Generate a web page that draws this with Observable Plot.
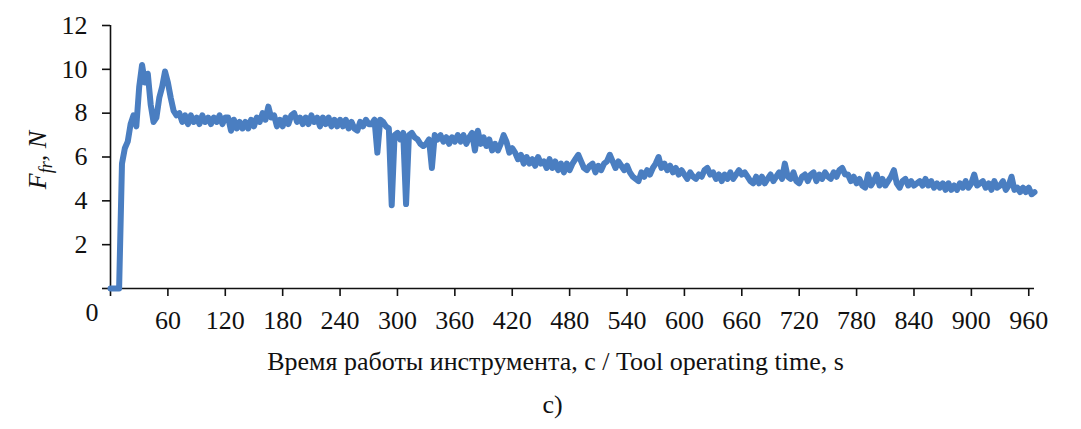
<!DOCTYPE html>
<html><head><meta charset="utf-8">
<script src="https://cdn.jsdelivr.net/npm/d3@7"></script>
<script src="https://cdn.jsdelivr.net/npm/@observablehq/plot@0.6"></script>
<style>body{margin:0;background:#fff;}</style>
</head><body><div id="chart"></div>
<script>
const timeStep = 3; // seconds between samples
const forceValues = [
  0,0,0,0,5.7,6.4,6.7,7.5,7.9,7.4,9.2,10.2,9.4,9.8,8.4,7.6,7.8,8.7,9.2,9.9,9.4,8.7,8.1,7.9,
  8.0,7.6,7.9,7.5,7.9,7.6,7.8,7.5,7.9,7.6,7.8,7.5,7.8,7.6,7.9,7.5,7.8,
  7.8,7.2,7.7,7.3,7.6,7.3,7.6,7.3,7.7,7.4,
  7.8,7.6,8.0,7.7,8.3,7.8,7.9,7.4,7.7,7.4,
  7.8,7.5,7.9,8.0,7.6,7.8,7.5,7.8,7.5,7.9,
  7.6,7.8,7.4,7.8,7.5,7.8,7.4,7.7,7.4,7.7,
  7.4,7.7,7.3,7.6,7.3,7.2,7.6,7.4,7.7,7.5,
  7.5,7.7,6.2,7.7,7.6,7.4,7.3,3.8,7.0,7.1,
  6.8,7.1,3.85,7.0,7.1,6.9,6.8,6.6,6.5,6.6,
  6.8,5.5,7.0,6.8,7.0,6.7,6.9,6.6,6.9,6.7,
  7.0,6.7,7.0,6.6,6.9,7.1,6.3,7.2,6.6,6.9,
  6.5,6.8,6.3,6.6,6.3,6.6,7.0,6.7,6.2,6.4,
  6.2,5.9,6.1,5.7,6.0,5.7,5.9,5.6,6.0,5.7,
  5.8,5.5,5.9,5.5,5.8,5.4,5.7,5.3,5.7,5.4,
  5.7,5.9,6.1,5.8,5.5,5.4,5.6,5.7,5.3,5.6,
  5.4,5.7,5.8,6.1,5.8,5.5,5.8,5.6,5.4,5.6,
  5.3,5.1,5.0,4.9,5.3,5.1,5.4,5.2,5.5,5.7,
  6.0,5.5,5.7,5.4,5.6,5.3,5.5,5.2,5.4,5.2,
  5.0,5.3,5.1,5.0,5.2,5.1,5.4,5.5,5.2,5.3,
  5.0,5.2,4.9,5.2,5.0,5.3,5.0,5.2,5.4,5.2,
  5.3,5.1,4.9,4.8,5.1,4.8,5.1,4.8,5.0,5.2,
  4.9,5.1,5.3,5.0,5.7,5.1,5.0,5.3,4.9,4.8,
  5.1,5.2,4.9,5.2,5.3,4.9,5.2,5.0,5.3,5.1,
  5.0,5.3,5.1,5.4,5.5,5.2,5.2,4.9,5.1,4.8,
  5.0,4.7,4.6,5.2,4.7,4.9,5.2,4.7,5.0,4.7,
  4.9,5.1,5.4,4.8,4.6,4.9,5.0,4.7,4.9,4.7,
  4.8,4.9,4.7,5.0,4.7,4.9,4.6,4.8,4.6,4.8,
  4.5,4.8,4.5,4.7,4.5,4.8,4.6,4.9,4.6,4.8,
  5.2,4.7,4.8,4.9,4.6,4.8,4.5,4.9,4.6,4.7,
  4.9,4.5,4.7,5.1,4.5,4.6,4.4,4.6,4.4,4.6,4.3,4.4
];
const xTicks = [0,60,120,180,240,300,360,420,480,540,600,660,720,780,840,900,960];
const yTicks = [0,2,4,6,8,10,12];
const zeroLabel = ["0"];
const xTitle = ["Время работы инструмента, с / Tool operating time, s"];
const panelLabel = ["c)"];
const yLabelMain = "F", yLabelSub = "fr", yLabelRest = ", N";

const data = forceValues.map((v, i) => ({t: i * timeStep, f: v}));
const font = "'Liberation Serif', 'Times New Roman', serif";
const ink = "#111";

const chart = Plot.plot({
  width: 1081, height: 429,
  marginLeft: 110, marginRight: 47, marginTop: 25, marginBottom: 141,
  style: {fontFamily: font, fontSize: "26px", color: ink, background: "#fff"},
  x: {domain: [0, 966]},
  y: {domain: [0, 12]},
  marks: [
    Plot.axisX({ticks: xTicks, tickSize: 8, tickPadding: 14, strokeWidth: 1.6, fontSize: 26,
      tickFormat: d => d === 0 ? "" : String(d), label: null}),
    Plot.axisY({ticks: yTicks, tickSize: 8, tickPadding: 15, strokeWidth: 1.6, fontSize: 26,
      tickFormat: d => d === 0 ? "" : String(d), label: null}),
    Plot.ruleY([0], {stroke: ink, strokeWidth: 1.6}),
    Plot.ruleX([0], {stroke: ink, strokeWidth: 1.6}),
    Plot.text(zeroLabel, {frameAnchor: "bottom-left", dx: -25, dy: 32, fill: ink, fontSize: 26}),
    Plot.line(data, {x: "t", y: "f", stroke: "#4a7ec1", strokeWidth: 6, strokeLinejoin: "round", strokeLinecap: "round"}),
    Plot.text(xTitle, {frameAnchor: "bottom", dx: -17, dy: 81, fill: ink, fontSize: 26}),
    Plot.text(panelLabel, {frameAnchor: "bottom", dx: -20, dy: 124, fill: ink, fontSize: 26})
  ]
});

const svg = d3.select(chart);
const yl = svg.append("text")
  .attr("transform", "translate(46,160) rotate(-90)")
  .attr("text-anchor", "middle")
  .attr("fill", ink)
  .style("font-family", font)
  .style("font-style", "italic")
  .style("font-size", "26px");
yl.append("tspan").text(yLabelMain);
yl.append("tspan").attr("dy", 6).style("font-size", "18px").text(yLabelSub);
yl.append("tspan").attr("dy", -6).text(yLabelRest);

document.getElementById("chart").appendChild(chart);
</script>
</body></html>
